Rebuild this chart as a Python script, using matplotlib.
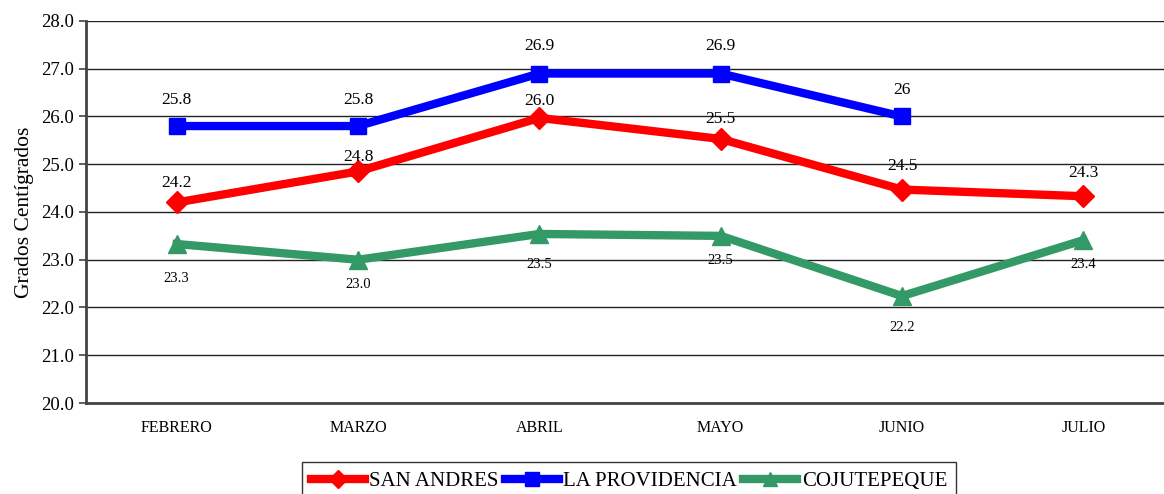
import matplotlib
matplotlib.use("Agg")
import matplotlib.pyplot as plt
import numpy as np

plt.rcParams['font.family'] = ['Liberation Serif', 'DejaVu Serif']

months = ["FEBRERO", "MARZO", "ABRIL", "MAYO", "JUNIO", "JULIO"]
san_andres = [24.2, 24.85, 25.97, 25.53, 24.47, 24.33]
san_andres_labels = ["24.2", "24.8", "26.0", "25.5", "24.5", "24.3"]
la_providencia = [25.8, 25.8, 26.9, 26.9, 26.0, np.nan]
la_providencia_labels = ["25.8", "25.8", "26.9", "26.9", "26", ""]
cojutepeque = [23.33, 23.0, 23.54, 23.5, 22.24, 23.41]
cojutepeque_labels = ["23.3", "23.0", "23.5", "23.5", "22.2", "23.4"]
y_ticks = [20, 21, 22, 23, 24, 25, 26, 27, 28]

# vertical label offsets (pixels from the marker centre to the label centre)
red_off = [19, 14, 17, 20, 24, 23]
blue_off = [26, 26, 28, 28, 26, 0]
green_off = [-35, -25, -31, -25, -31, -24]

W, H = 1164, 494
fig = plt.figure(figsize=(W / 100, H / 100), dpi=100)
ax = fig.add_axes([86 / W, 1 - 403 / H, (1174 - 86) / W, (403 - 21) / H])

x = np.arange(len(months))
red, blue, green = "#FF0000", "#0000FF", "#339966"
px = 72 / 100  # points per pixel

ax.plot(x, san_andres, color=red, lw=6, marker="D", ms=11, label="SAN ANDRES", zorder=3)
ax.plot(x, la_providencia, color=blue, lw=6, marker="s", ms=12, label="LA PROVIDENCIA", zorder=4)
ax.plot(x, cojutepeque, color=green, lw=6, marker="^", ms=13, label="COJUTEPEQUE", zorder=3)

for xi, v, t, o in zip(x, san_andres, san_andres_labels, red_off):
    ax.annotate(t, (xi, v), xytext=(0, o * px), textcoords="offset points",
                ha="center", va="center", fontsize=12.5, zorder=5)
for xi, v, t, o in zip(x, la_providencia, la_providencia_labels, blue_off):
    if t:
        ax.annotate(t, (xi, v), xytext=(0, o * px), textcoords="offset points",
                    ha="center", va="center", fontsize=12.5, zorder=5)
for xi, v, t, o in zip(x, cojutepeque, cojutepeque_labels, green_off):
    ax.annotate(t, (xi, v), xytext=(0, o * px), textcoords="offset points",
                ha="center", va="center", fontsize=10.5, zorder=5)

ax.set_xlim(-0.5, len(months) - 0.5)
ax.set_ylim(20, 28)
ax.set_yticks(y_ticks)
ax.set_yticklabels([f"{t:.1f}" for t in y_ticks], fontsize=13.5)
ax.set_xticks(x)
ax.set_xticklabels(months, fontsize=11.5)
ax.tick_params(axis="x", length=0, pad=12)
ax.tick_params(axis="y", length=5, width=1.2, color="#444444", pad=4)
ax.set_ylabel("Grados Centígrados", fontsize=15.5, labelpad=5)

ax.yaxis.grid(True, color="#222222", lw=1)
ax.set_axisbelow(True)
for s in ["top", "right"]:
    ax.spines[s].set_visible(False)
for s in ["left", "bottom"]:
    ax.spines[s].set_color("#444444")
    ax.spines[s].set_linewidth(2)

leg = fig.legend(loc="upper center", bbox_to_anchor=(629 / W, 1 - 462 / H), ncol=3,
                 fontsize=15, frameon=True, fancybox=False, edgecolor="black",
                 handlelength=2.6, handletextpad=0.2, columnspacing=0.3,
                 borderpad=0.45, borderaxespad=0, markerscale=0.8)
leg.get_frame().set_linewidth(1)

fig.savefig("out.png", dpi=100)
